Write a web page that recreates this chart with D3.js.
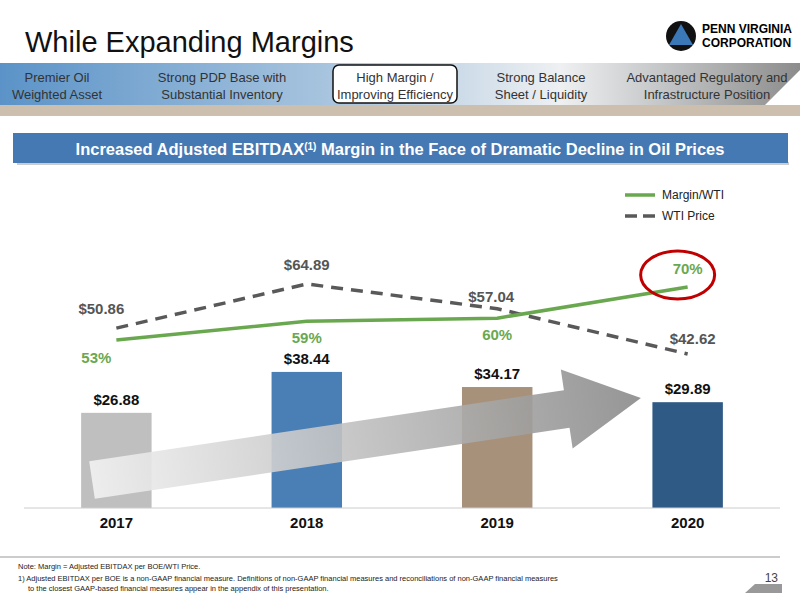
<!DOCTYPE html>
<html><head><meta charset="utf-8">
<script src="https://cdn.jsdelivr.net/npm/d3@7"></script>
<style>body{margin:0;background:#fff}text{font-family:"Liberation Sans",Arial,sans-serif}</style>
</head><body><svg id="c" width="800" height="600"></svg>
<script>
const years = ["2017","2018","2019","2020"];
const ebitdax = [26.88, 38.44, 34.17, 29.89];
const wti = [50.86, 64.89, 57.04, 42.62];
const margin = [53, 59, 60, 70];
const barColors = ["#bfbfbf", "#4a7fb5", "#a8917a", "#2f5a86"];
const tabs = [["Premier Oil","Weighted Asset"],["Strong PDP Base with","Substantial Inventory"],["High Margin /","Improving Efficiency"],["Strong Balance","Sheet / Liquidity"],["Advantaged Regulatory and","Infrastructure Position"]];
const tabX = [57, 222, 395, 541, 707];

const svg = d3.select("#c");
const defs = svg.append("defs");
const g1 = defs.append("linearGradient").attr("id","band");
g1.append("stop").attr("offset","0").attr("stop-color","#5b93c8");
g1.append("stop").attr("offset","0.5").attr("stop-color","#b9cfe3");
g1.append("stop").attr("offset","0.7").attr("stop-color","#eef0f2");
g1.append("stop").attr("offset","1").attr("stop-color","#8c8c8c");
const g2 = defs.append("linearGradient").attr("id","arr");
g2.append("stop").attr("offset","0").attr("stop-color","#f2f2f2");
g2.append("stop").attr("offset","1").attr("stop-color","#8a8a8a");

svg.append("text").attr("x",25).attr("y",52).attr("font-size",29).attr("fill","#111").text("While Expanding Margins");
// logo
svg.append("circle").attr("cx",681).attr("cy",36).attr("r",15).attr("fill","#111");
svg.append("path").attr("d","M681,24 L693,45 L669,45 Z").attr("fill","#3b78b8");
svg.append("text").attr("x",702).attr("y",33).attr("font-size",12).attr("font-weight","bold").attr("font-family","Liberation Serif").text("PENN VIRGINIA");
svg.append("text").attr("x",702).attr("y",47).attr("font-size",12).attr("font-weight","bold").attr("font-family","Liberation Serif").text("CORPORATION");

svg.append("rect").attr("x",0).attr("y",105).attr("width",800).attr("height",11).attr("fill","#cdbfae");
svg.append("path").attr("d","M0,63 L800,63 L800,70 L765,105 L0,105 Z").attr("fill","url(#band)");
svg.append("rect").attr("x",333).attr("y",65).attr("width",124).attr("height",38).attr("rx",6).attr("fill","#fff").attr("stroke","#111").attr("stroke-width",1.5);
tabs.forEach((t,i)=>{
  t.forEach((s,j)=>svg.append("text").attr("x",tabX[i]).attr("y",82+j*17).attr("text-anchor","middle").attr("font-size",13).attr("fill","#333").text(s));
});

svg.append("rect").attr("x",16).attr("y",136).attr("width",772).attr("height",3).attr("fill","#ccc").attr("transform","translate(1,26)");
svg.append("rect").attr("x",13).attr("y",133).attr("width",775).attr("height",30).attr("fill","#4479b4");
const tt = svg.append("text").attr("x",400).attr("y",155).attr("text-anchor","middle").attr("font-size",16.5).attr("font-weight","bold").attr("fill","#fff");
tt.append("tspan").text("Increased Adjusted EBITDAX");
tt.append("tspan").attr("font-size",10).attr("dy",-5).text("(1)");
tt.append("tspan").attr("dy",5).text(" Margin in the Face of Dramatic Decline in Oil Prices");

const x = d3.scaleBand().domain(years).range([24, 780]).paddingInner(0.63).paddingOuter(0.3);
const yBar = d3.scaleLinear().domain([0, 40]).range([508, 366.4]);
const yWti = d3.scaleLinear().domain([0, 64.89]).range([488, 284]);
const yM = d3.scaleLinear().domain([0, 70]).range([505, 287]);
const cx = i => x(years[i]) + x.bandwidth()/2;

svg.selectAll(".bar").data(ebitdax).join("rect")
  .attr("x",(d,i)=>x(years[i])).attr("width",x.bandwidth())
  .attr("y",d=>yBar(d)).attr("height",d=>508-yBar(d)).attr("fill",(d,i)=>barColors[i]);
svg.selectAll(".bl").data(ebitdax).join("text")
  .attr("x",(d,i)=>cx(i)).attr("y",d=>yBar(d)-8).attr("text-anchor","middle")
  .attr("font-size",15).attr("font-weight","bold").attr("fill","#111").text(d=>"$"+d.toFixed(2));
svg.append("line").attr("x1",24).attr("x2",780).attr("y1",508).attr("y2",508).attr("stroke","#ccc");
svg.selectAll(".yr").data(years).join("text")
  .attr("x",(d,i)=>cx(i)).attr("y",528).attr("text-anchor","middle")
  .attr("font-size",15).attr("font-weight","bold").attr("fill","#111").text(d=>d);

// arrow
svg.append("path").attr("d","M0,-19 L480,-19 L480,-40 L555,0 L480,40 L480,19 L0,19 Z")
  .attr("fill","url(#arr)").attr("opacity",0.9)
  .attr("transform","translate(92,480) rotate(-8.5)");

const line = d3.line();
svg.append("path").attr("d",line(wti.map((d,i)=>[cx(i),yWti(d)]))).attr("fill","none")
  .attr("stroke","#595959").attr("stroke-width",3.5).attr("stroke-dasharray","12,8");
svg.append("path").attr("d",line(margin.map((d,i)=>[cx(i),yM(d)]))).attr("fill","none")
  .attr("stroke","#6aa84f").attr("stroke-width",3.5);

const wDx = [-15, 0, -6, 5];
const wDy = [-14, -14, -7, -10];
svg.selectAll(".wl").data(wti).join("text")
  .attr("x",(d,i)=>cx(i)+wDx[i]).attr("y",(d,i)=>yWti(d)+wDy[i]).attr("text-anchor","middle")
  .attr("font-size",15).attr("font-weight","bold").attr("fill","#555").text(d=>"$"+d.toFixed(2));
const mOff = [23, 22, 22, -13];
svg.selectAll(".ml").data(margin).join("text")
  .attr("x",(d,i)=>cx(i)-(i==0?20:0)).attr("y",(d,i)=>yM(d)+mOff[i]).attr("text-anchor","middle")
  .attr("font-size",15).attr("font-weight","bold").attr("fill","#6aa84f").text(d=>d+"%");
svg.append("ellipse").attr("cx",cx(3)-10).attr("cy",yM(70)-12).attr("rx",37).attr("ry",24)
  .attr("fill","none").attr("stroke","#c00000").attr("stroke-width",3);

// legend
svg.append("line").attr("x1",625).attr("x2",655).attr("y1",195).attr("y2",195).attr("stroke","#6aa84f").attr("stroke-width",3.5);
svg.append("text").attr("x",662).attr("y",199).attr("font-size",12).attr("fill","#222").text("Margin/WTI");
svg.append("line").attr("x1",625).attr("x2",655).attr("y1",216).attr("y2",216).attr("stroke","#595959").attr("stroke-width",3.5).attr("stroke-dasharray","12,6");
svg.append("text").attr("x",662).attr("y",220).attr("font-size",12).attr("fill","#222").text("WTI Price");

// footer
svg.append("line").attr("x1",0).attr("x2",780).attr("y1",557).attr("y2",557).attr("stroke","#999");
svg.append("text").attr("x",18).attr("y",569).attr("font-size",7.5).attr("fill","#222").text("Note: Margin = Adjusted EBITDAX per BOE/WTI Price.");
svg.append("text").attr("x",18).attr("y",581).attr("font-size",7.5).attr("fill","#222").text("1)  Adjusted EBITDAX per BOE is a non-GAAP financial measure.  Definitions of non-GAAP financial measures and reconciliations of non-GAAP financial measures");
svg.append("text").attr("x",28).attr("y",591).attr("font-size",7.5).attr("fill","#222").text("to the closest GAAP-based financial measures appear in the appendix of this presentation.");
svg.append("text").attr("x",778).attr("y",582).attr("text-anchor","end").attr("font-size",12).attr("fill","#444").text("13");
svg.append("path").attr("d","M745,593 L782,593 L782,584 L755,584 Z").attr("fill","#999");
</script></body></html>
